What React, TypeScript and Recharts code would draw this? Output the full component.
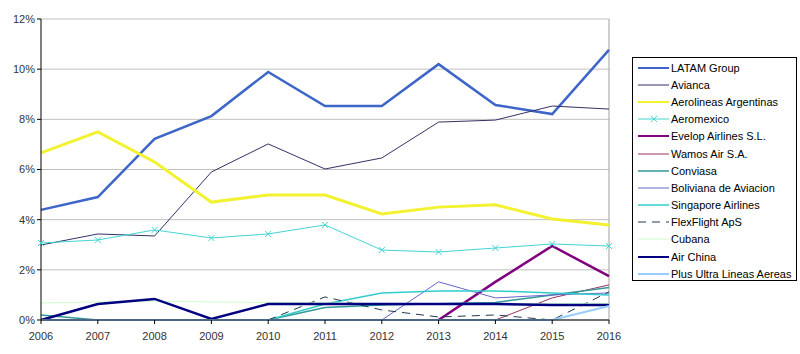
import { LineChart, Line, XAxis, YAxis, CartesianGrid, ReferenceLine } from "recharts";

const years = ["2006", "2007", "2008", "2009", "2010", "2011", "2012", "2013", "2014", "2015", "2016"];

const latam = [4.39, 4.9, 7.22, 8.13, 9.89, 8.53, 8.53, 10.2, 8.57, 8.21, 10.77];
const avianca = [2.99, 3.43, 3.35, 5.9, 7.02, 6.02, 6.46, 7.89, 7.97, 8.53, 8.41];
const aerolineas = [6.66, 7.5, 6.3, 4.7, 4.98, 4.98, 4.23, 4.5, 4.59, 4.03, 3.79];
const aeromexico = [3.07, 3.19, 3.59, 3.27, 3.43, 3.79, 2.79, 2.71, 2.87, 3.03, 2.95];
const evelop = [null, null, null, null, null, null, null, 0, 1.52, 2.95, 1.75];
const wamos = [null, null, null, null, null, null, null, null, 0, 0.88, 1.4];
const conviasa = [0.2, 0, 0, 0, 0, 0.5, 0.6, 0.65, 0.7, 1.0, 1.3];
const boliviana = [null, null, null, null, null, null, 0, 1.52, 0.88, 1.0, 1.08];
const singapore = [null, null, null, null, 0, 0.64, 1.08, 1.16, 1.16, 1.08, 1.0];
const flexflight = [null, null, null, null, 0, 0.92, 0.4, 0.12, 0.2, 0, 1.12];
const cubana = [0.68, 0.72, 0.75, 0.72, 0.7, 0.68, 0.66, 0.65, 0.65, 0.65, 0.65];
const airChina = [0, 0.64, 0.84, 0.04, 0.64, 0.64, 0.64, 0.64, 0.64, 0.6, 0.6];
const plusUltra = [0, 0, 0, 0, 0, 0, 0, 0, 0, 0, 0.56];

const yTicks = [0, 2, 4, 6, 8, 10, 12];

const series = [
  { key: "latam", name: "LATAM Group", values: latam, color: "#3d66c8", width: 2.5 },
  { key: "avianca", name: "Avianca", values: avianca, color: "#333366", width: 1 },
  { key: "aerolineas", name: "Aerolineas Argentinas", values: aerolineas, color: "#f2f230", width: 3 },
  { key: "aeromexico", name: "Aeromexico", values: aeromexico, color: "#44d4d4", width: 1, marker: true },
  { key: "evelop", name: "Evelop Airlines S.L.", values: evelop, color: "#800080", width: 2.5 },
  { key: "wamos", name: "Wamos Air S.A.", values: wamos, color: "#993366", width: 1 },
  { key: "conviasa", name: "Conviasa", values: conviasa, color: "#339999", width: 1.5 },
  { key: "boliviana", name: "Boliviana de Aviacion", values: boliviana, color: "#6666cc", width: 1 },
  { key: "singapore", name: "Singapore Airlines", values: singapore, color: "#33cccc", width: 1.5 },
  { key: "flexflight", name: "FlexFlight ApS", values: flexflight, color: "#1f3a50", width: 1, dash: "8 6" },
  { key: "cubana", name: "Cubana", values: cubana, color: "#ccffcc", width: 1 },
  { key: "airChina", name: "Air China", values: airChina, color: "#000080", width: 2.5 },
  { key: "plusUltra", name: "Plus Ultra Lineas Aereas", values: plusUltra, color: "#99ccff", width: 2 },
];

const data = years.map((y, i) => {
  const row: any = { year: y };
  series.forEach((s) => {
    row[s.key] = s.values[i];
  });
  return row;
});

const font = "'Liberation Sans', Arial, sans-serif";

const XDot = (props: any) => {
  const { cx, cy, stroke } = props;
  if (cx == null || cy == null) return null;
  return (
    <g stroke={stroke} strokeWidth={1}>
      <line x1={cx - 3} y1={cy - 3} x2={cx + 3} y2={cy + 3} />
      <line x1={cx - 3} y1={cy + 3} x2={cx + 3} y2={cy - 3} />
    </g>
  );
};

function LegendBox() {
  return (
    <div
      style={{
        position: "absolute",
        left: 632,
        top: 57,
        width: 165,
        height: 224,
        border: "1px solid #000",
        background: "#fff",
        fontFamily: font,
        fontSize: 11,
        color: "#000",
        boxSizing: "border-box",
        paddingTop: 1,
      }}
    >
      {series.map((s) => (
        <div key={s.key} style={{ height: 17.2, display: "flex", alignItems: "center" }}>
          <svg width={38} height={10} style={{ flex: "none" }}>
            <line
              x1={5}
              y1={5}
              x2={36}
              y2={5}
              stroke={s.color}
              strokeWidth={Math.min(s.width, 2)}
              strokeDasharray={s.dash}
            />
            {s.marker && (
              <g stroke={s.color} strokeWidth={1}>
                <line x1={18} y1={2} x2={24} y2={8} />
                <line x1={18} y1={8} x2={24} y2={2} />
              </g>
            )}
          </svg>
          <span style={{ whiteSpace: "nowrap" }}>{s.name}</span>
        </div>
      ))}
    </div>
  );
}

export default function App() {
  return (
    <div style={{ position: "relative", width: 800, height: 354, background: "#fff" }}>
      <style>{"body{margin:0}"}</style>
      <LineChart
        width={800}
        height={354}
        data={data}
        margin={{ top: 19, right: 191, left: 0, bottom: 0 }}
      >
        <CartesianGrid vertical={false} stroke="#c0c0c0" />
        <ReferenceLine x="2016" stroke="#a0a0a0" />
        <XAxis
          dataKey="year"
          height={34}
          stroke="#000"
          tickSize={4}
          tickMargin={8}
          tick={{ fill: "#333", fontSize: 11, fontFamily: font }}
        />
        <YAxis
          width={41}
          domain={[0, 12]}
          ticks={yTicks}
          tickFormatter={(v: number) => `${v}%`}
          stroke="#000"
          tickSize={4}
          tick={{ fill: "#333", fontSize: 11, fontFamily: font }}
        />
        {series.map((s) => (
          <Line
            key={s.key}
            type="linear"
            dataKey={s.key}
            name={s.name}
            stroke={s.color}
            strokeWidth={s.width}
            strokeDasharray={s.dash}
            dot={s.marker ? <XDot /> : false}
            activeDot={false}
            isAnimationActive={false}
          />
        ))}
      </LineChart>
      <LegendBox />
    </div>
  );
}
